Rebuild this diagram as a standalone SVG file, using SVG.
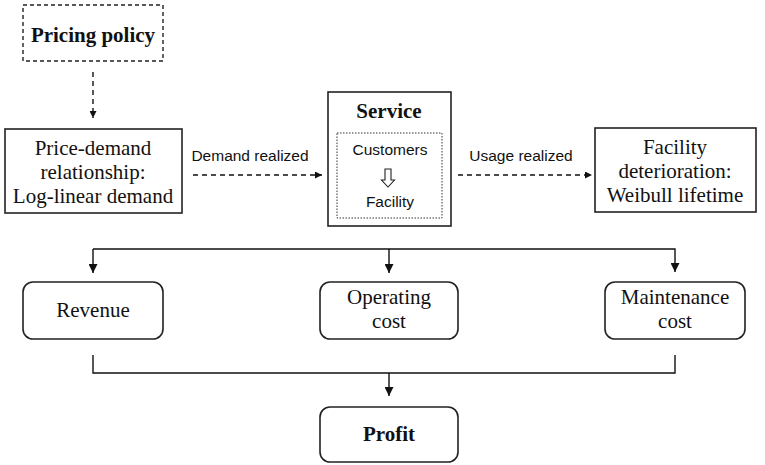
<svg xmlns="http://www.w3.org/2000/svg" width="765" height="465" viewBox="0 0 765 465">
<defs>
<marker id="ah" viewBox="0 0 10 10" refX="10" refY="5" markerWidth="7" markerHeight="7" orient="auto" markerUnits="userSpaceOnUse">
<path d="M0,0 L10,5 L0,10 z" fill="#111"/>
</marker>
<marker id="ah2" viewBox="0 0 10 10" refX="10" refY="5" markerWidth="9" markerHeight="9" orient="auto" markerUnits="userSpaceOnUse">
<path d="M0,0 L10,5 L0,10 z" fill="#111"/>
</marker>
</defs>
<style>
.box{fill:#fff;stroke:#222;stroke-width:1.6}
.dbox{fill:#fff;stroke:#222;stroke-width:1.4;stroke-dasharray:4 3}
.inner{fill:none;stroke:#333;stroke-width:1;stroke-dasharray:1.5 1.5}
.serif{font-family:"Liberation Serif","Times New Roman",serif;font-size:21px;fill:#111;text-anchor:middle}
.bold{font-weight:bold}
.sans{font-family:"Liberation Sans",Arial,sans-serif;font-size:15.5px;fill:#111;text-anchor:middle}
.dash{fill:none;stroke:#111;stroke-width:1.4;stroke-dasharray:5 4}
.solid{fill:none;stroke:#111;stroke-width:1.4}
</style>
<rect width="765" height="465" fill="#fff"/>

<g id="connectors">
<line class="dash" x1="93" y1="72" x2="93" y2="118" marker-end="url(#ah)"/>
<line class="dash" x1="193" y1="175" x2="322" y2="175" marker-end="url(#ah)"/>
<line class="dash" x1="458" y1="175" x2="592" y2="175" marker-end="url(#ah)"/>
<text class="sans" x="250" y="161">Demand realized</text>
<text class="sans" x="521" y="161">Usage realized</text>
<polyline class="solid" points="93,249 675,249 675,272" marker-end="url(#ah2)"/>
<line class="solid" x1="93" y1="249" x2="93" y2="273" marker-end="url(#ah2)"/>
<line class="solid" x1="389" y1="249" x2="389" y2="273" marker-end="url(#ah2)"/>
<polyline class="solid" points="93,355 93,373 675,373 675,355"/>
<line class="solid" x1="389" y1="373" x2="389" y2="396" marker-end="url(#ah2)"/>
</g>

<g id="pricing-policy">
<rect class="dbox" x="23" y="5" width="140" height="56"/>
<text class="serif bold" x="93" y="42">Pricing policy</text>
</g>

<g id="price-demand">
<rect class="box" x="5" y="129" width="177" height="84"/>
<text class="serif" x="93" y="155">Price-demand</text>
<text class="serif" x="93" y="179">relationship:</text>
<text class="serif" x="93" y="203">Log-linear demand</text>
</g>

<g id="service">
<rect class="box" x="328" y="92" width="123" height="134"/>
<text class="serif bold" x="389" y="118">Service</text>
<rect class="inner" x="337" y="133" width="105" height="85"/>
<text class="sans" x="390" y="155">Customers</text>
<path d="M385,169 L391,169 L391,180 L394.5,180 L388,187 L381.5,180 L385,180 Z" fill="#fff" stroke="#222" stroke-width="1.1"/>
<text class="sans" x="390" y="207">Facility</text>
</g>

<g id="facility-deterioration">
<rect class="box" x="595" y="128" width="161" height="84"/>
<text class="serif" x="675" y="154">Facility</text>
<text class="serif" x="675" y="178">deterioration:</text>
<text class="serif" x="675" y="202">Weibull lifetime</text>
</g>

<g id="revenue">
<rect class="box" x="23" y="282" width="140" height="57" rx="10"/>
<text class="serif" x="93" y="317">Revenue</text>
</g>

<g id="operating-cost">
<rect class="box" x="320" y="282" width="138" height="57" rx="10"/>
<text class="serif" x="389" y="304">Operating</text>
<text class="serif" x="389" y="328">cost</text>
</g>

<g id="maintenance-cost">
<rect class="box" x="605" y="282" width="140" height="57" rx="10"/>
<text class="serif" x="675" y="304">Maintenance</text>
<text class="serif" x="675" y="328">cost</text>
</g>

<g id="profit">
<rect class="box" x="320" y="407" width="138" height="55" rx="10"/>
<text class="serif bold" x="389" y="441">Profit</text>
</g>
</svg>
